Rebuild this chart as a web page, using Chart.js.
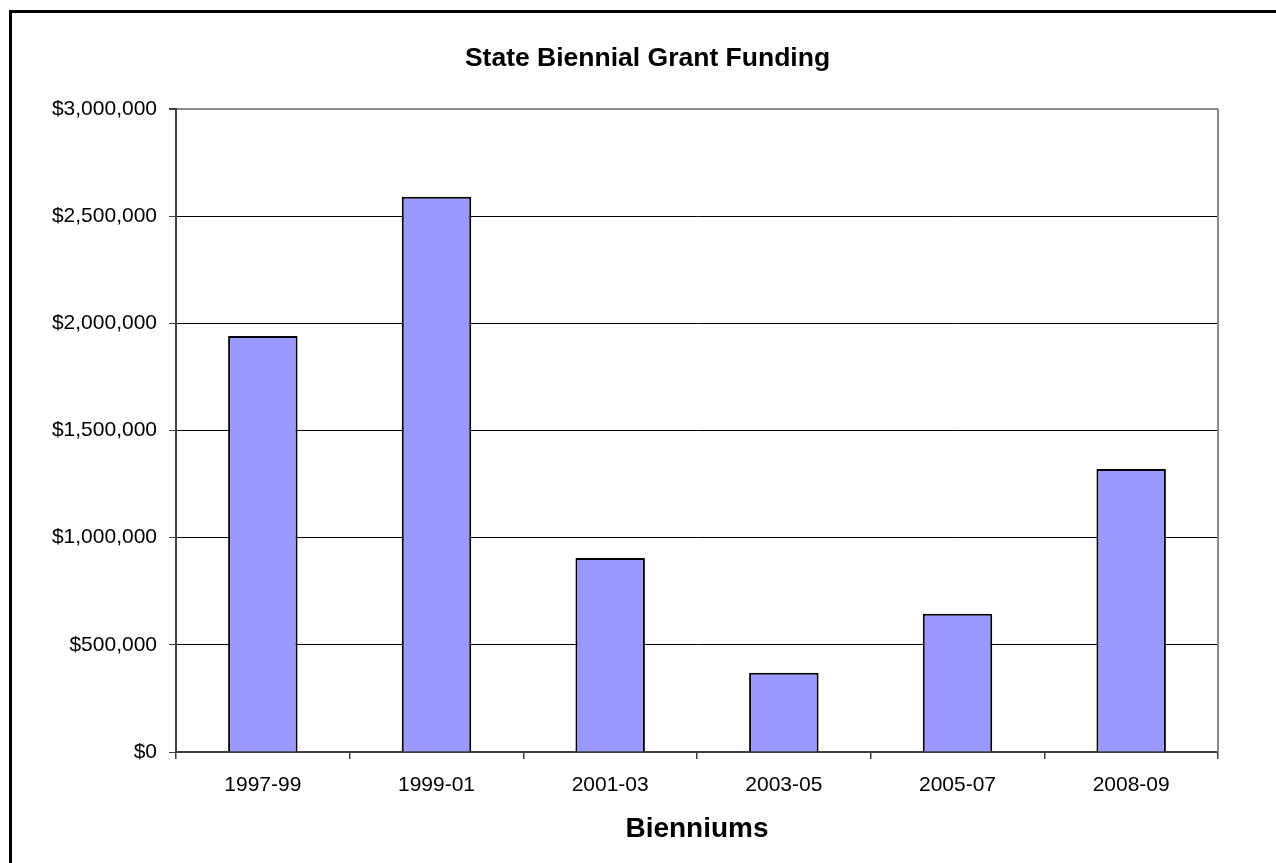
<!DOCTYPE html>
<html>
<head>
<meta charset="utf-8">
<title>State Biennial Grant Funding</title>
<script src="https://cdn.jsdelivr.net/npm/chart.js@4/dist/chart.umd.min.js"></script>
<style>
  html, body { margin: 0; padding: 0; background: #fff; }
  #wrap { position: relative; width: 1276px; height: 863px; }
</style>
</head>
<body>
<div id="wrap"><canvas id="chart"></canvas></div>
<script>
const bienniums = ['1997-99', '1999-01', '2001-03', '2003-05', '2005-07', '2008-09'];
const grantFunding = [1940000, 2590000, 905000, 370000, 645000, 1320000];
const fundingMax = 3000000;
const fundingStep = 500000;

const FONT = "'Liberation Sans', Arial, sans-serif";

// black frame round the whole chart, plus the grey right edge of the plot
const framePlugin = {
    id: 'frame',
    afterDraw(chart) {
        const ctx = chart.ctx;
        const area = chart.chartArea;
        ctx.save();
        ctx.strokeStyle = '#000';
        ctx.lineWidth = 3;
        ctx.beginPath();
        ctx.moveTo(10.5, chart.height + 5);
        ctx.lineTo(10.5, 11.5);
        ctx.lineTo(chart.width + 5, 11.5);
        ctx.stroke();

        ctx.strokeStyle = '#8c8c8c';
        ctx.lineWidth = 2;
        ctx.beginPath();
        ctx.moveTo(area.right, area.top);
        ctx.lineTo(area.right, area.bottom);
        ctx.stroke();
        ctx.restore();
    }
};

new Chart(document.getElementById('chart'), {
    type: 'bar',
    data: {
        labels: bienniums,
        datasets: [{
            label: 'Grant Funding',
            data: grantFunding,
            backgroundColor: '#9999ff',
            borderColor: '#000',
            borderWidth: 2,
            barPercentage: 0.4,
            categoryPercentage: 1.0
        }]
    },
    options: {
        responsive: true,
        maintainAspectRatio: false,
        animation: false,
        layout: { padding: { left: 19, right: 0, top: 0, bottom: 17 } },
        plugins: {
            legend: { display: false },
            tooltip: { enabled: false },
            title: {
                display: true,
                text: 'State Biennial Grant Funding',
                color: '#000',
                font: { family: FONT, size: 26.5, weight: 'bold' },
                padding: { top: 43, bottom: 34 }
            }
        },
        scales: {
            x: {
                offset: true,
                grid: {
                    offset: true,
                    drawOnChartArea: false,
                    drawTicks: true,
                    tickLength: 7,
                    color: '#404040',
                    lineWidth: 1.5
                },
                border: { display: true, color: '#404040', width: 2 },
                ticks: {
                    color: '#000',
                    font: { family: FONT, size: 21 },
                    padding: 14,
                    maxRotation: 0
                },
                title: {
                    display: true,
                    text: 'Bienniums',
                    color: '#000',
                    font: { family: FONT, size: 28, weight: 'bold' },
                    padding: 0
                },
                afterFit(scale) { scale.height = 94; }
            },
            y: {
                min: 0,
                max: fundingMax,
                grid: {
                    color: ctx => ctx.tick && ctx.tick.value === fundingMax ? '#8c8c8c' : '#000',
                    lineWidth: ctx => ctx.tick && ctx.tick.value === fundingMax ? 2 : 1,
                    tickColor: '#404040',
                    tickLength: 7,
                    drawTicks: true
                },
                border: { display: true, color: '#404040', width: 2 },
                ticks: {
                    stepSize: fundingStep,
                    color: '#000',
                    font: { family: FONT, size: 21 },
                    padding: 12,
                    callback: v => '$' + Number(v).toLocaleString('en-US')
                },
                afterFit(scale) { scale.width = 157; }
            },
            // empty right-hand margin so the plot stops short of the page edge
            margin: {
                position: 'right',
                display: true,
                grid: { display: false },
                border: { display: false },
                ticks: { display: false },
                afterFit(scale) { scale.width = 58; }
            }
        }
    },
    plugins: [framePlugin]
});
</script>
</body>
</html>
